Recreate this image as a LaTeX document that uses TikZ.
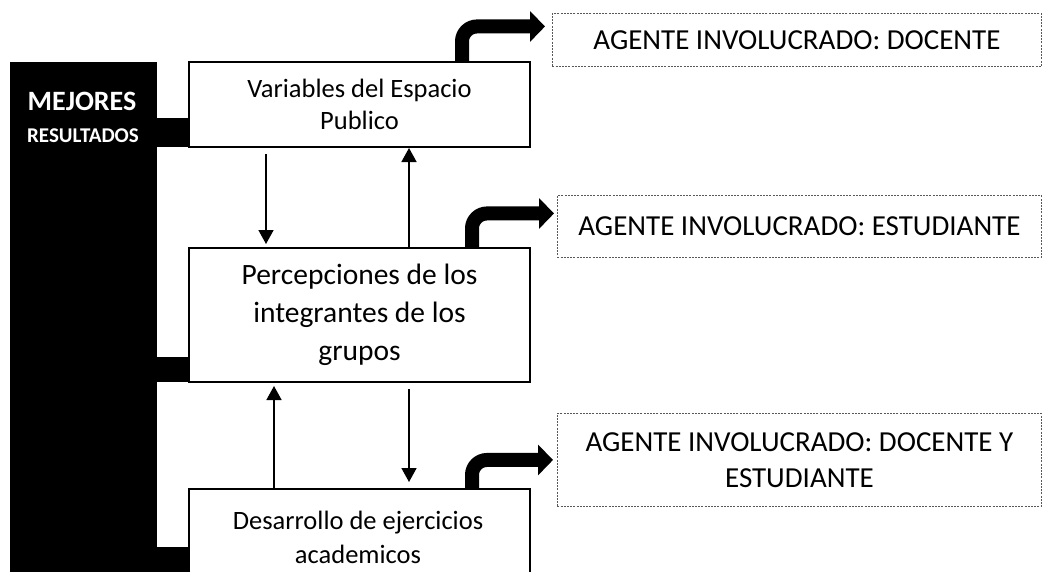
\documentclass[tikz,border=0pt]{standalone}
\usepackage{fontspec}
\setmainfont{Carlito}
\usetikzlibrary{arrows.meta}
\tikzset{
  mainbox/.style={draw=black, line width=2pt, fill=white, minimum width=341pt, anchor=north west, align=center, inner sep=0pt},
  agentbox/.style={draw=black!65, dashed, dash pattern=on 2pt off 1.2pt, line width=0.9pt, anchor=north west, align=center, inner sep=0pt, minimum width=489pt},
  tab/.style={fill=black, draw=none, anchor=north west, inner sep=0pt, minimum width=32pt, minimum height=29pt},
  tarrow/.style={line width=1.6pt, -{Triangle[length=14pt 0 1, width=15pt 0 1]}},
  bent/.style={line width=14pt, rounded corners=15pt, -{Triangle[length=15pt 0 1, width=30pt 0 1]}},
}
\begin{document}
\begin{tikzpicture}[x=1pt,y=-1pt]
\useasboundingbox (0,0) rectangle (1043,571);
\begin{scope}
\clip (0,0) rectangle (1043,571);
% black bar
\node[fill=black, anchor=north west, inner sep=0pt, minimum width=147pt, minimum height=520pt] (bar) at (10,62) {};
\node[text=white, font=\fontsize{28}{32}\selectfont\bfseries] (mej) at (82,101) {MEJORES};
\node[text=white, font=\fontsize{21}{24}\selectfont\bfseries] (res) at (83,136) {RESULTADOS};
% tabs
\node[tab] (t1) at (156,118) {};
\node[tab, minimum height=25pt] (t2) at (156,357) {};
\node[tab, minimum height=25pt] (t3) at (156,547) {};
% main boxes
\node[mainbox, minimum height=85pt, font=\fontsize{26.5}{32}\selectfont] (b1) at (188,61) {Variables del Espacio\\Publico};
\node[mainbox, minimum height=134pt, font=\fontsize{29.5}{38}\selectfont] (b2) at (188,247) {Percepciones de los\\integrantes de los\\grupos};
\node[mainbox, minimum height=110pt, anchor=north west] (b3) at (188,488) {};
\node[font=\fontsize{26.5}{34}\selectfont, align=center] (b3t) at (358,537) {Desarrollo de ejercicios\\academicos};
\end{scope}
% agent boxes
\node[agentbox, minimum height=53pt, font=\fontsize{29}{36}\selectfont] (d1) at (552,13) {AGENTE INVOLUCRADO: DOCENTE};
\node[agentbox, minimum height=62pt, font=\fontsize{29}{36}\selectfont, minimum width=484pt] (d2) at (557,195) {AGENTE INVOLUCRADO: ESTUDIANTE};
\node[agentbox, minimum height=93pt, font=\fontsize{29}{36}\selectfont, minimum width=484pt] (d3) at (557,413) {AGENTE INVOLUCRADO: DOCENTE Y\\ESTUDIANTE};
% thin arrows
\draw[tarrow] ([xshift=78pt,yshift=-6pt]b1.south west) -- ([xshift=78pt,yshift=3pt]b2.north west);
\draw[tarrow] ([xshift=221pt]b2.north west) -- ([xshift=221pt]b1.south west);
\draw[tarrow] ([xshift=86pt]b3.north west) -- ([xshift=86pt,yshift=-3pt]b2.south west);
\draw[tarrow] ([xshift=221pt,yshift=-6pt]b2.south west) -- ([xshift=221pt,yshift=6pt]b3.north west);
% bent arrows
\draw[bent] ([xshift=274pt]b1.north west) |- ([xshift=-7pt,yshift=13.5pt]d1.west);
\draw[bent] ([xshift=284pt]b2.north west) |- ([xshift=-3pt,yshift=13pt]d2.west);
\draw[bent] ([xshift=284pt]b3.north west) |- ([xshift=-4pt]d3.west);
\end{tikzpicture}
\end{document}
